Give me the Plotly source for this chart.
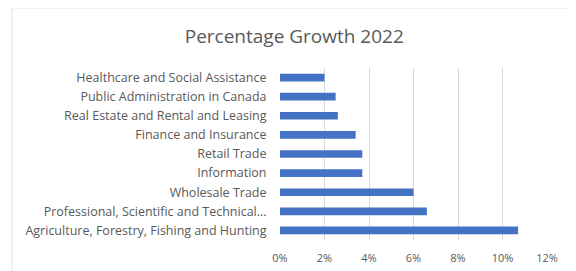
import plotly.graph_objects as go

categories = [
    "Healthcare and Social Assistance",
    "Public Administration in Canada",
    "Real Estate and Rental and Leasing",
    "Finance and Insurance",
    "Retail Trade",
    "Information",
    "Wholesale Trade",
    "Professional, Scientific and Technical…",
    "Agriculture, Forestry, Fishing and Hunting",
]
growth = [0.020, 0.025, 0.026, 0.034, 0.037, 0.037, 0.060, 0.066, 0.107]
tick_vals = [0, 0.02, 0.04, 0.06, 0.08, 0.10, 0.12]
tick_text = ["0%", "2%", "4%", "6%", "8%", "10%", "12%"]

fig = go.Figure(go.Bar(
    x=growth, y=categories, orientation="h",
    marker=dict(color="#4472C4", line=dict(width=0)),
))

fig.update_layout(
    width=568, height=263,
    margin=dict(l=272, r=29, t=60, b=31, autoexpand=False),
    paper_bgcolor="white", plot_bgcolor="white",
    bargap=0.6,
    showlegend=False,
    title=dict(text="Percentage Growth 2022", x=0.504, xanchor="center",
               y=0.893, yanchor="middle",
               font=dict(family="Open Sans", size=19, color="#595959")),
    font=dict(family="Open Sans", color="#595959"),
    xaxis=dict(range=[0, 0.12], tickvals=tick_vals, ticktext=tick_text,
               showgrid=True, gridcolor="#D9D9D9", gridwidth=1,
               zeroline=False, showline=False, automargin=False,
               ticks="outside", ticklen=8, tickcolor="rgba(0,0,0,0)",
               tickfont=dict(size=11, color="#595959")),
    yaxis=dict(autorange="reversed", showgrid=False, zeroline=False,
               showline=False, ticks="outside", ticklen=10, automargin=False,
               tickcolor="rgba(0,0,0,0)",
               tickfont=dict(size=12.5, color="#595959")),
    shapes=[dict(type="rect", xref="paper", yref="paper",
                 x0=-1.004, x1=1.094, y0=-0.2, y1=1.349,
                 line=dict(color="#E3E3E3", width=1), layer="below")],
)

fig.write_html("out.html")
